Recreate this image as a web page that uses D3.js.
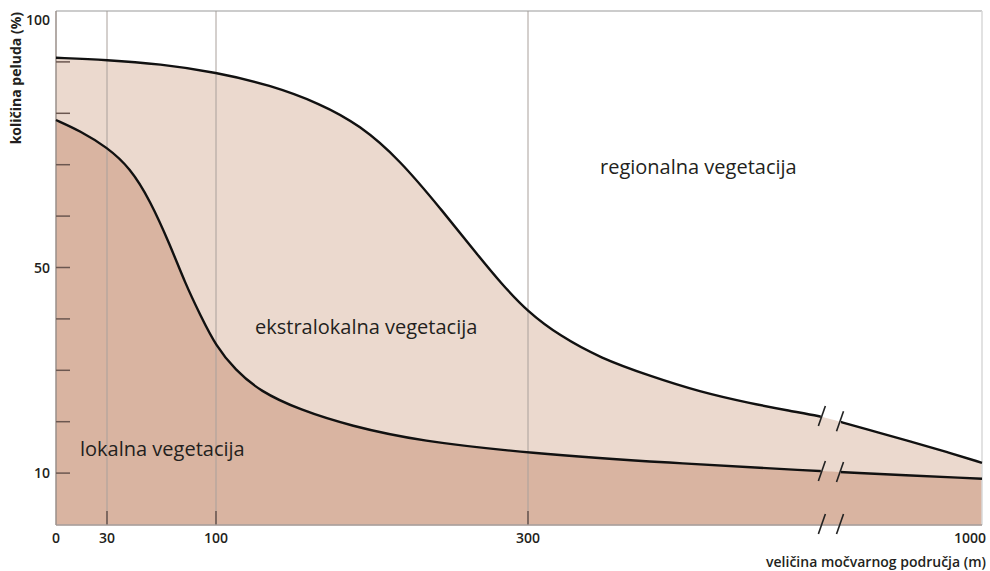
<!DOCTYPE html>
<html><head><meta charset="utf-8">
<script src="https://cdn.jsdelivr.net/npm/d3@7"></script>
<style>body{margin:0;background:#fff}svg{display:block}text{font-family:"Open Sans",sans-serif;fill:#231f20}</style>
</head><body><svg id="c" width="990" height="571"></svg>
<script>
// ---- data ----
const xTickValues = [0, 30, 100, 300, 1000];
const xTickLabels = ["0", "30", "100", "300", "1000"];
const gridValues = [30, 100, 300];
const yTickValues = [10, 20, 30, 40, 50, 60, 70, 80, 90];
const yLabelValues = [100, 50, 10];
const yLabels = ["100", "50", "10"];
const breakStart = 750, breakEnd = 778;

const upperX = [0, 30, 64, 100, 134.6, 166.7, 192.3, 217.9, 243.6, 269.2, 282, 300, 349.3, 411, 488, 565, 642, 704, 750, 778, 843, 894, 946, 1000];
const upperY = [90.8, 90.4, 89.6, 88.0, 85.5, 81.9, 77.7, 70.9, 61.6, 51.9, 47.2, 41.3, 36.7, 32.4, 28.9, 25.8, 23.6, 22.1, 21.1, 20.1, 17.8, 16.0, 14.1, 12.0];
const lowerX = [0, 14.1, 30, 44.8, 57.6, 70.5, 80.1, 89.8, 100, 112.2, 128.2, 153.8, 185.9, 230.8, 300, 514.3, 750, 778, 1000];
const lowerY = [78.7, 76.6, 73.4, 69.4, 63.1, 54.4, 47.0, 40.8, 34.7, 30.1, 25.9, 22.3, 19.2, 16.2, 13.9, 12.0, 10.4, 10.2, 8.9];

const areaLabels = ["regionalna vegetacija", "ekstralokalna vegetacija", "lokalna vegetacija"];
const yTitle = "količina peluda (%)";
const xTitle = "veličina močvarnog područja (m)";

// ---- layout ----
const L = 56, R = 982, T = 11, B = 525;
const svg = d3.select("#c");
const x = d3.scaleLinear().domain(xTickValues).range([56, 107, 216, 528, 982]);
const y = d3.scaleLinear().domain([0, 100]).range([524.5, 10.5]);

const upper = upperX.map((v, i) => [v, upperY[i]]);
const lower = lowerX.map((v, i) => [v, lowerY[i]]);

const curve = d3.curveBasis;
const area = d3.area().x(d => x(d[0])).y0(y(0)).y1(d => y(d[1])).curve(curve);
const line = d3.line().x(d => x(d[0])).y(d => y(d[1])).curve(curve);

svg.append("path").attr("d", area(upper)).attr("fill", "#ebd9ce");
svg.append("path").attr("d", area(lower)).attr("fill", "#d9b4a1");

// grid lines
svg.selectAll(".grid").data(gridValues).enter().append("line")
  .attr("x1", d => x(d)).attr("x2", d => x(d)).attr("y1", T).attr("y2", B)
  .attr("stroke", "#a9a09b").attr("stroke-width", 1);
svg.selectAll(".gtick").data(gridValues).enter().append("line")
  .attr("x1", d => x(d)).attr("x2", d => x(d)).attr("y1", B - 14).attr("y2", B)
  .attr("stroke", "#5a4640").attr("stroke-width", 1.3);

// frame
svg.append("line").attr("x1", L).attr("x2", R).attr("y1", T).attr("y2", T).attr("stroke", "#9a9a9a").attr("stroke-width", 1.2);
svg.append("line").attr("x1", R).attr("x2", R).attr("y1", T).attr("y2", B).attr("stroke", "#d8d8d8").attr("stroke-width", 1.5);
svg.append("line").attr("x1", L).attr("x2", L).attr("y1", T).attr("y2", B).attr("stroke", "#9a8f8a").attr("stroke-width", 1.5);
svg.append("line").attr("x1", L).attr("x2", R).attr("y1", B).attr("y2", B).attr("stroke", "#a09590").attr("stroke-width", 1.5);

// y ticks
svg.selectAll(".ytick").data(yTickValues).enter().append("line")
  .attr("x1", L).attr("x2", L + 14).attr("y1", d => y(d)).attr("y2", d => y(d))
  .attr("stroke", "#6b5750").attr("stroke-width", 1.5);

// curves with gap at break
const defs = svg.append("defs");
const cp = defs.append("clipPath").attr("id", "gap");
cp.append("rect").attr("x", 0).attr("y", 0).attr("width", x(breakStart) + 1).attr("height", 571);
cp.append("rect").attr("x", x(breakEnd) + 3).attr("y", 0).attr("width", 300).attr("height", 571);
[upper, lower].forEach(s => {
  svg.append("path").attr("d", line(s)).attr("fill", "none").attr("stroke", "#111")
    .attr("stroke-width", 2.4).attr("clip-path", "url(#gap)");
});

// break marks
function slash(px, py) {
  svg.append("line").attr("x1", px - 3.5).attr("x2", px + 3.5).attr("y1", py + 10).attr("y2", py - 10)
    .attr("stroke", "#222").attr("stroke-width", 1.6);
}
const bx1 = x(breakStart) + 2, bx2 = x(breakEnd) + 2;
const uS = upper.find(d => d[0] === breakStart)[1], uE = upper.find(d => d[0] === breakEnd)[1];
const lS = lower.find(d => d[0] === breakStart)[1], lE = lower.find(d => d[0] === breakEnd)[1];
slash(bx1, y(uS)); slash(bx2, y(uE));
slash(bx1, y(lS)); slash(bx2, y(lE));
slash(bx1, B - 1); slash(bx2, B - 1);

// y labels
svg.selectAll(".ylab").data(yLabelValues).enter().append("text")
  .attr("x", 50).attr("y", d => y(d) + (d === 100 ? 14 : 5))
  .attr("text-anchor", "end").attr("font-size", 14).attr("font-weight", 600)
  .text((d, i) => yLabels[i]);

// x labels
svg.selectAll(".xlab").data(xTickValues).enter().append("text")
  .attr("x", (d, i) => i === xTickValues.length - 1 ? 986 : x(d))
  .attr("y", 543)
  .attr("text-anchor", (d, i) => i === xTickValues.length - 1 ? "end" : "middle")
  .attr("font-size", 14).attr("font-weight", 600)
  .text((d, i) => xTickLabels[i]);

// titles
svg.append("text").attr("transform", "translate(21,12) rotate(-90)")
  .attr("text-anchor", "end").attr("font-size", 14).attr("font-weight", 700).text(yTitle);
svg.append("text").attr("x", 986).attr("y", 567).attr("text-anchor", "end")
  .attr("font-size", 14).attr("font-weight", 600).text(xTitle);

// area labels
const labPos = [[600, 174], [255, 334], [80, 456]];
svg.selectAll(".alab").data(areaLabels).enter().append("text")
  .attr("x", (d, i) => labPos[i][0]).attr("y", (d, i) => labPos[i][1])
  .attr("font-size", 20).attr("font-weight", 500).text(d => d);
</script></body></html>
